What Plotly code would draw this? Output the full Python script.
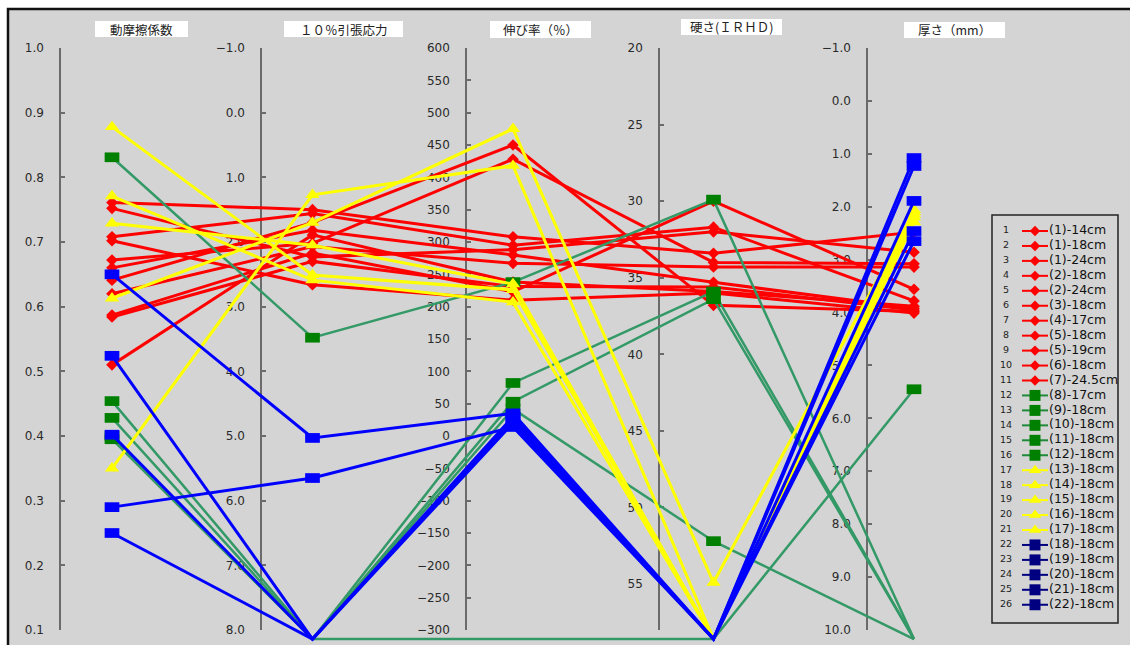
import plotly.graph_objects as go

W, H = 1130, 645

# ---- data -----------------------------------------------------------------
metrics = ["動摩擦係数", "１０％引張応力", "伸び率（％）", "硬さ(ＩＲＨＤ)", "厚さ（mm）"]

series_names = [
    "(1)-14cm", "(1)-18cm", "(1)-24cm", "(2)-18cm", "(2)-24cm", "(3)-18cm",
    "(4)-17cm", "(5)-18cm", "(5)-19cm", "(6)-18cm", "(7)-24.5cm",
    "(8)-17cm", "(9)-18cm", "(10)-18cm", "(11)-18cm", "(12)-18cm",
    "(13)-18cm", "(14)-18cm", "(15)-18cm", "(16)-18cm", "(17)-18cm",
    "(18)-18cm", "(19)-18cm", "(20)-18cm", "(21)-18cm", "(22)-18cm",
]
series_group = (["red"] * 11 + ["green"] * 5 + ["yellow"] * 5 + ["blue"] * 5)

# None = not measured (drawn on the floor line below the axes)
friction = [0.761, 0.752, 0.708, 0.702, 0.672, 0.660, 0.641, 0.620, 0.587, 0.584, 0.510,
            0.831, 0.454, 0.428, 0.400, 0.395,
            0.613, 0.350, 0.729, 0.878, 0.771,
            0.650, 0.524, 0.402, 0.290, 0.250]
tensile_10 = [1.50, 2.23, 1.56, 2.66, 2.02, 1.82, 1.70, 2.07, 2.17, 2.30, 1.89,
              3.48, None, None, None, None,
              1.70, 1.27, 2.05, 2.51, 2.59,
              5.03, None, None, 5.65, None]
elongation = [308, 288, 295, 210, 428, 280, 450, 267, 223, 231, 238,
              238, 82, 53, 42, None,
              475, 418, 235, 226, 207,
              35, 30, 25, 14, 20]
hardness = [33.4, 32.0, 31.7, 36.0, 34.0, 35.3, 36.8, 34.3, 30.0, 35.6, 35.9,
            29.9, 35.9, 36.4, 52.2, None,
            54.9, None, None, None, None,
            None, None, None, None, None]
thickness = [2.48, 2.86, 3.78, 4.01, 3.08, 3.92, 3.98, 3.14, 3.56, 3.95, 3.88,
             None, None, None, None, 5.45,
             2.10, 2.29, 2.20, 2.15, 2.06,
             1.08, 1.23, 1.89, 2.46, 2.65]

columns = [friction, tensile_10, elongation, hardness, thickness]

# scale of each vertical axis: value at the bottom, value at the top, tick step
axis_bottom = [0.1, 8.0, -300, 58, 10.0]
axis_top = [1.0, -1.0, 600, 20, -1.0]
axis_dtick = [0.1, 1.0, 50, 5, 1.0]
axis_format = [".1f", ".1f", "d", "d", ".1f"]

# ---- geometry (pixels) --------------------------------------------------------
AX_TOP, AX_BOT = 48, 630          # pixel rows of each axis' top / bottom value
AXIS_X = [60, 261, 466, 659, 867]  # pixel column of each axis line
COL0, COL_STEP = 112, 200.5        # pixel column of first data column, spacing
MISSING = -0.0155                  # normalised floor for unmeasured values

styles = {
    "red": dict(line="#ff0000", width=3, marker="#ff0000", symbol="diamond", size=9, mlw=0,
                lg_line="#ff0000", lg_marker="#ff0000", lg_symbol="diamond", lg_size=8),
    "green": dict(line="#339966", width=2.5, marker="#008000", symbol="line-ew", size=10.5, mlw=9.7,
                  lg_line="#1f8a3a", lg_marker="#008000", lg_symbol="square", lg_size=11),
    "yellow": dict(line="#ffff00", width=3, marker="#ffff00", symbol="triangle-up", size=12.5, mlw=0,
                   lg_line="#ffff00", lg_marker="#ffff00", lg_symbol="triangle-up", lg_size=11),
    "blue": dict(line="#0000ff", width=3, marker="#0000ff", symbol="line-ew", size=10.5, mlw=9.7,
                 lg_line="#000080", lg_marker="#000080", lg_symbol="square", lg_size=11),
}


def norm(v, k):
    if v is None:
        return MISSING
    return (v - axis_bottom[k]) / (axis_top[k] - axis_bottom[k])


def px_x(p):
    return p / W


def px_y(p):
    return 1 - p / H


fig = go.Figure()

axis_ids = ["y", "y2", "y3", "y4", "y5"]

# placeholders so that each value axis gets its own subplot
for yid in axis_ids:
    fig.add_trace(go.Scatter(x=[None], y=[None], xaxis="x", yaxis=yid,
                             showlegend=False, hoverinfo="skip"))

# ---- parallel-coordinate lines ----------------------------------------------
x_idx = list(range(len(columns)))
for s in range(len(series_names)):
    vals = [col[s] for col in columns]
    st = styles[series_group[s]]
    fig.add_trace(go.Scatter(
        x=x_idx, y=[norm(v, k) for k, v in enumerate(vals)],
        xaxis="x", yaxis="y6", mode="lines+markers", name=series_names[s],
        line=dict(color=st["line"], width=st["width"]),
        marker=dict(symbol=st["symbol"], size=st["size"], color=st["marker"],
                    opacity=[0 if v is None else 1 for v in vals],
                    line=dict(width=st["mlw"], color=st["marker"])),
        showlegend=False, hoverinfo="skip", cliponaxis=False,
    ))

# ---- hand-built legend --------------------------------------------------------
LG_X0, LG_X1, LG_Y0, LG_Y1 = 992, 1118, 215, 623
ROW0, ROW_STEP = 231, 14.95
for s, nm in enumerate(series_names):
    st = styles[series_group[s]]
    fig.add_trace(go.Scatter(x=[30, 56], y=[s, s], xaxis="x2", yaxis="y7", mode="lines",
                             line=dict(color=st["lg_line"], width=2),
                             showlegend=False, hoverinfo="skip"))
    fig.add_trace(go.Scatter(x=[43], y=[s], xaxis="x2", yaxis="y7", mode="markers",
                             marker=dict(symbol=st["lg_symbol"], size=st["lg_size"],
                                         color=st["lg_marker"]),
                             showlegend=False, hoverinfo="skip"))
fig.add_trace(go.Scatter(x=[14] * len(series_names), y=list(range(len(series_names))),
                         xaxis="x2", yaxis="y7", mode="text",
                         text=[str(i + 1) for i in range(len(series_names))],
                         textposition="middle center",
                         textfont=dict(family="DejaVu Sans", size=9.5, color="#222"),
                         showlegend=False, hoverinfo="skip"))
fig.add_trace(go.Scatter(x=[57] * len(series_names), y=list(range(len(series_names))),
                         xaxis="x2", yaxis="y7", mode="text", text=series_names,
                         textposition="middle right",
                         textfont=dict(family="DejaVu Sans", size=12.5, color="#111"),
                         showlegend=False, hoverinfo="skip"))

# ---- layout -----------------------------------------------------------------
layout = dict(
    width=W, height=H, margin=dict(l=0, r=0, t=0, b=0, pad=0, autoexpand=False),
    paper_bgcolor="white", plot_bgcolor="rgba(0,0,0,0)", showlegend=False,
    xaxis=dict(domain=[0, 1], range=[-COL0 / COL_STEP, (W - COL0) / COL_STEP],
               visible=False, fixedrange=True),
    yaxis6=dict(domain=[0, 1], anchor="x",
                range=[-(H - AX_BOT) / (AX_BOT - AX_TOP), 1 + AX_TOP / (AX_BOT - AX_TOP)],
                visible=False, fixedrange=True),
    xaxis2=dict(domain=[px_x(LG_X0), px_x(LG_X1)], range=[0, LG_X1 - LG_X0], anchor="y7",
                visible=False, fixedrange=True),
    yaxis7=dict(domain=[px_y(LG_Y1), px_y(LG_Y0)], anchor="x2",
                range=[(LG_Y1 - ROW0) / ROW_STEP, (LG_Y0 - ROW0) / ROW_STEP],
                visible=False, fixedrange=True),
)

for k, yid in enumerate(axis_ids):
    key = "yaxis" if k == 0 else "yaxis%d" % (k + 1)
    layout[key] = dict(
        domain=[px_y(AX_BOT), px_y(AX_TOP)],
        range=[axis_bottom[k], axis_top[k]],
        anchor="free", position=px_x(AXIS_X[k]), side="left",
        showline=True, linecolor="#6b6b6b", linewidth=1.5,
        ticks="inside", ticklen=4, tickwidth=1.5, tickcolor="#6b6b6b",
        tickmode="linear", tick0=axis_top[k], dtick=axis_dtick[k],
        tickformat=axis_format[k], ticklabelstandoff=13,
        tickfont=dict(family="DejaVu Sans", size=12, color="#2a2a2a"),
        showgrid=False, zeroline=False, layer="below traces", fixedrange=True,
        automargin=False,
    )

# outer grey panel with its dark frame
shapes = [dict(type="rect", xref="paper", yref="paper", layer="below",
               x0=px_x(8), x1=1.05, y0=-0.05, y1=px_y(9),
               fillcolor="#d4d4d4", line=dict(color="#111", width=2.5))]

# white title boxes above each axis
header_boxes = [(95, 188, 21, 37), (284, 403, 21, 37), (490, 591, 21, 38),
                (681, 782, 19, 35), (904, 1005, 22, 38)]
annotations = []
for title, (x0, x1, y0, y1) in zip(metrics, header_boxes):
    shapes.append(dict(type="rect", xref="paper", yref="paper", layer="below",
                       x0=px_x(x0), x1=px_x(x1), y0=px_y(y1), y1=px_y(y0),
                       fillcolor="white", line=dict(width=0)))
    annotations.append(dict(xref="paper", yref="paper", x=px_x((x0 + x1) / 2),
                            y=px_y((y0 + y1) / 2), text=title, showarrow=False,
                            xanchor="center", yanchor="middle",
                            font=dict(family="Noto Sans CJK JP", size=12.5, color="#222")))

# legend frame
shapes.append(dict(type="rect", xref="paper", yref="paper", layer="below",
                   x0=px_x(LG_X0), x1=px_x(LG_X1), y0=px_y(LG_Y1), y1=px_y(LG_Y0),
                   fillcolor="rgba(0,0,0,0)", line=dict(color="#222", width=1.5)))

layout["shapes"] = shapes
layout["annotations"] = annotations
fig.update_layout(**layout)

fig.write_html("out.html")
